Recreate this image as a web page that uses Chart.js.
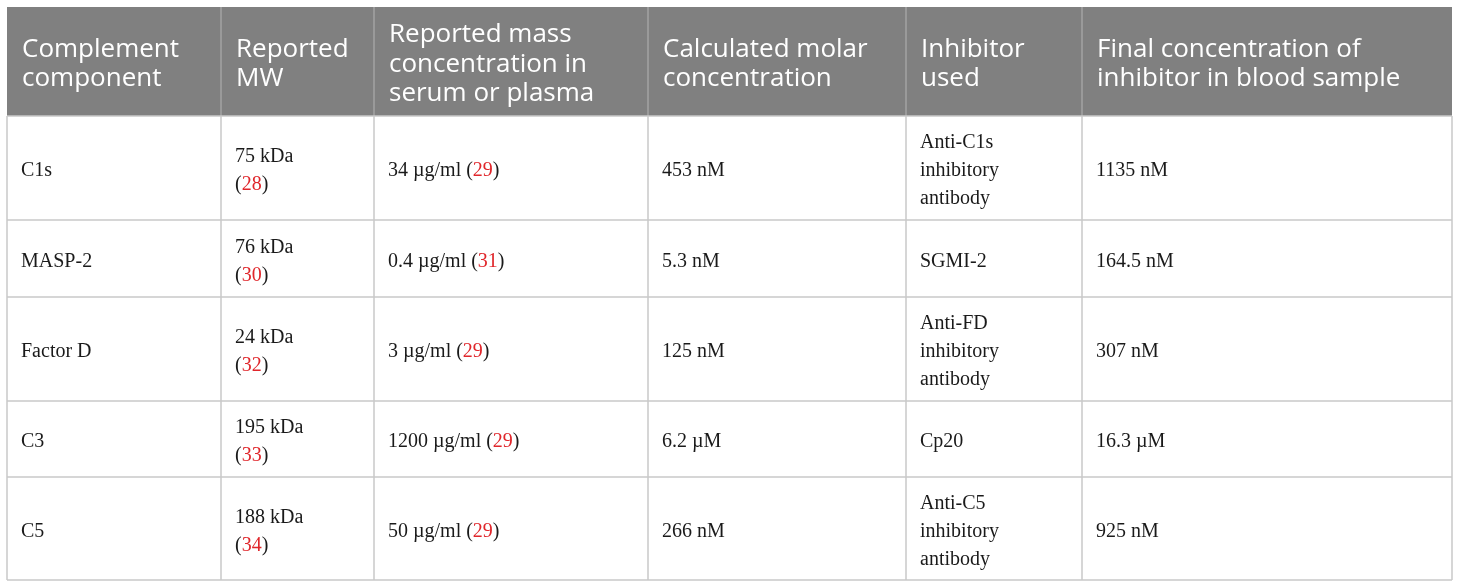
<!DOCTYPE html>
<html>
<head>
<meta charset="utf-8">
<script src="https://cdn.jsdelivr.net/npm/chart.js@4"></script>
<style>
  html, body { margin: 0; padding: 0; background: #fff; }
  #wrap { width: 1460px; height: 588px; position: relative; }
</style>
</head>
<body>
<div id="wrap"><canvas id="tableChart"></canvas></div>
<script>
// table content
const headers = [
    ["Complement", "component"],
    ["Reported", "MW"],
    ["Reported mass", "concentration in", "serum or plasma"],
    ["Calculated molar", "concentration"],
    ["Inhibitor", "used"],
    ["Final concentration of", "inhibitor in blood sample"]
];
const components = ["C1s", "MASP-2", "Factor D", "C3", "C5"];
const molecularWeights = ["75 kDa", "76 kDa", "24 kDa", "195 kDa", "188 kDa"];
const mwRefs = ["28", "30", "32", "33", "34"];
const massConcentrations = ["34 µg/ml", "0.4 µg/ml", "3 µg/ml", "1200 µg/ml", "50 µg/ml"];
const massRefs = ["29", "31", "29", "29", "29"];
const molarConcentrations = ["453 nM", "5.3 nM", "125 nM", "6.2 µM", "266 nM"];
const inhibitors = ["Anti-C1s inhibitory antibody", "SGMI-2", "Anti-FD inhibitory antibody", "Cp20", "Anti-C5 inhibitory antibody"];
const finalConcentrations = ["1135 nM", "164.5 nM", "307 nM", "16.3 µM", "925 nM"];

// grid layout (in scale units = px)
const colEdges = [7, 221, 374, 648, 906, 1082, 1452];
const rowEdges = [7, 116, 220, 297, 401, 477, 580];

const HEAD_BG = "#808080";
const BORDER = "#c9c9c9";
const REF_RED = "#e0262b";
const TEXT = "#1a1a1a";

// each body cell is a list of lines, each line a list of [text, color] pieces
function bodyCell(row, col){
    switch(col){
        case 0: return [[[components[row], TEXT]]];
        case 1: return [[[molecularWeights[row], TEXT]], [["(", TEXT], [mwRefs[row], REF_RED], [")", TEXT]]];
        case 2: return [[[massConcentrations[row] + " (", TEXT], [massRefs[row], REF_RED], [")", TEXT]]];
        case 3: return [[[molarConcentrations[row], TEXT]]];
        case 4: return inhibitors[row].split(" ").map(l => [[l, TEXT]]);
        case 5: return [[[finalConcentrations[row], TEXT]]];
    }
}

const tablePlugin = {
    id: "tablePlugin",
    afterDraw(chart){
        const ctx = chart.ctx;
        const xs = chart.scales.x, ys = chart.scales.y;
        const X = v => xs.getPixelForValue(v);
        const Y = v => ys.getPixelForValue(v);
        ctx.save();

        // header band
        ctx.fillStyle = HEAD_BG;
        ctx.fillRect(X(colEdges[0]), Y(rowEdges[0]), X(colEdges[6]) - X(colEdges[0]), Y(rowEdges[1]) - Y(rowEdges[0]));

        // lines
        ctx.lineWidth = 1.5;
        for(let c=0; c<colEdges.length; c++){
            if(c>0 && c<colEdges.length-1){
                ctx.strokeStyle = "#a3a3a3";
                ctx.beginPath();
                ctx.moveTo(X(colEdges[c]), Y(rowEdges[0]));
                ctx.lineTo(X(colEdges[c]), Y(rowEdges[1]));
                ctx.stroke();
            }
            ctx.strokeStyle = BORDER;
            ctx.beginPath();
            ctx.moveTo(X(colEdges[c]), Y(rowEdges[1]));
            ctx.lineTo(X(colEdges[c]), Y(rowEdges[rowEdges.length-1]));
            ctx.stroke();
        }
        ctx.strokeStyle = BORDER;
        for(let r=1; r<rowEdges.length; r++){
            ctx.beginPath();
            ctx.moveTo(X(colEdges[0]), Y(rowEdges[r]));
            ctx.lineTo(X(colEdges[6]), Y(rowEdges[r]));
            ctx.stroke();
        }

        // header text
        ctx.textBaseline = "alphabetic";
        ctx.fillStyle = "#ffffff";
        ctx.font = "26px 'Open Sans'";
        let headLh = 29.2;
        for(let c=0; c<headers.length; c++){
            let lines = headers[c];
            let mid = (rowEdges[0] + rowEdges[1]) / 2 + 10;
            for(let i=0; i<lines.length; i++){
                let yv = mid + (i - (lines.length-1)/2) * headLh;
                ctx.fillText(lines[i], X(colEdges[c] + 15), Y(yv));
            }
        }

        // body text
        ctx.font = "20px 'Liberation Serif'";
        let bodyLh = 28;
        for(let r=0; r<components.length; r++){
            let mid = (rowEdges[r+1] + rowEdges[r+2]) / 2 + 8;
            for(let c=0; c<colEdges.length-1; c++){
                let lines = bodyCell(r, c);
                for(let i=0; i<lines.length; i++){
                    let yv = mid + (i - (lines.length-1)/2) * bodyLh;
                    let x = X(colEdges[c] + 14);
                    for(const [txt, col] of lines[i]){
                        ctx.fillStyle = col;
                        ctx.fillText(txt, x, Y(yv));
                        x += ctx.measureText(txt).width;
                    }
                }
            }
        }
        ctx.restore();
    }
};

new Chart("tableChart", {
    type: "scatter",
    data: { datasets: [{ data: [], pointRadius: 0 }] },
    options: {
        responsive: true,
        maintainAspectRatio: false,
        animation: false,
        layout: { padding: 0 },
        events: [],
        plugins: {
            legend: { display: false },
            tooltip: { enabled: false }
        },
        scales: {
            x: { type: "linear", min: 0, max: 1460, display: false },
            y: { type: "linear", min: 0, max: 588, reverse: true, display: false }
        }
    },
    plugins: [tablePlugin]
});
</script>
</body>
</html>
